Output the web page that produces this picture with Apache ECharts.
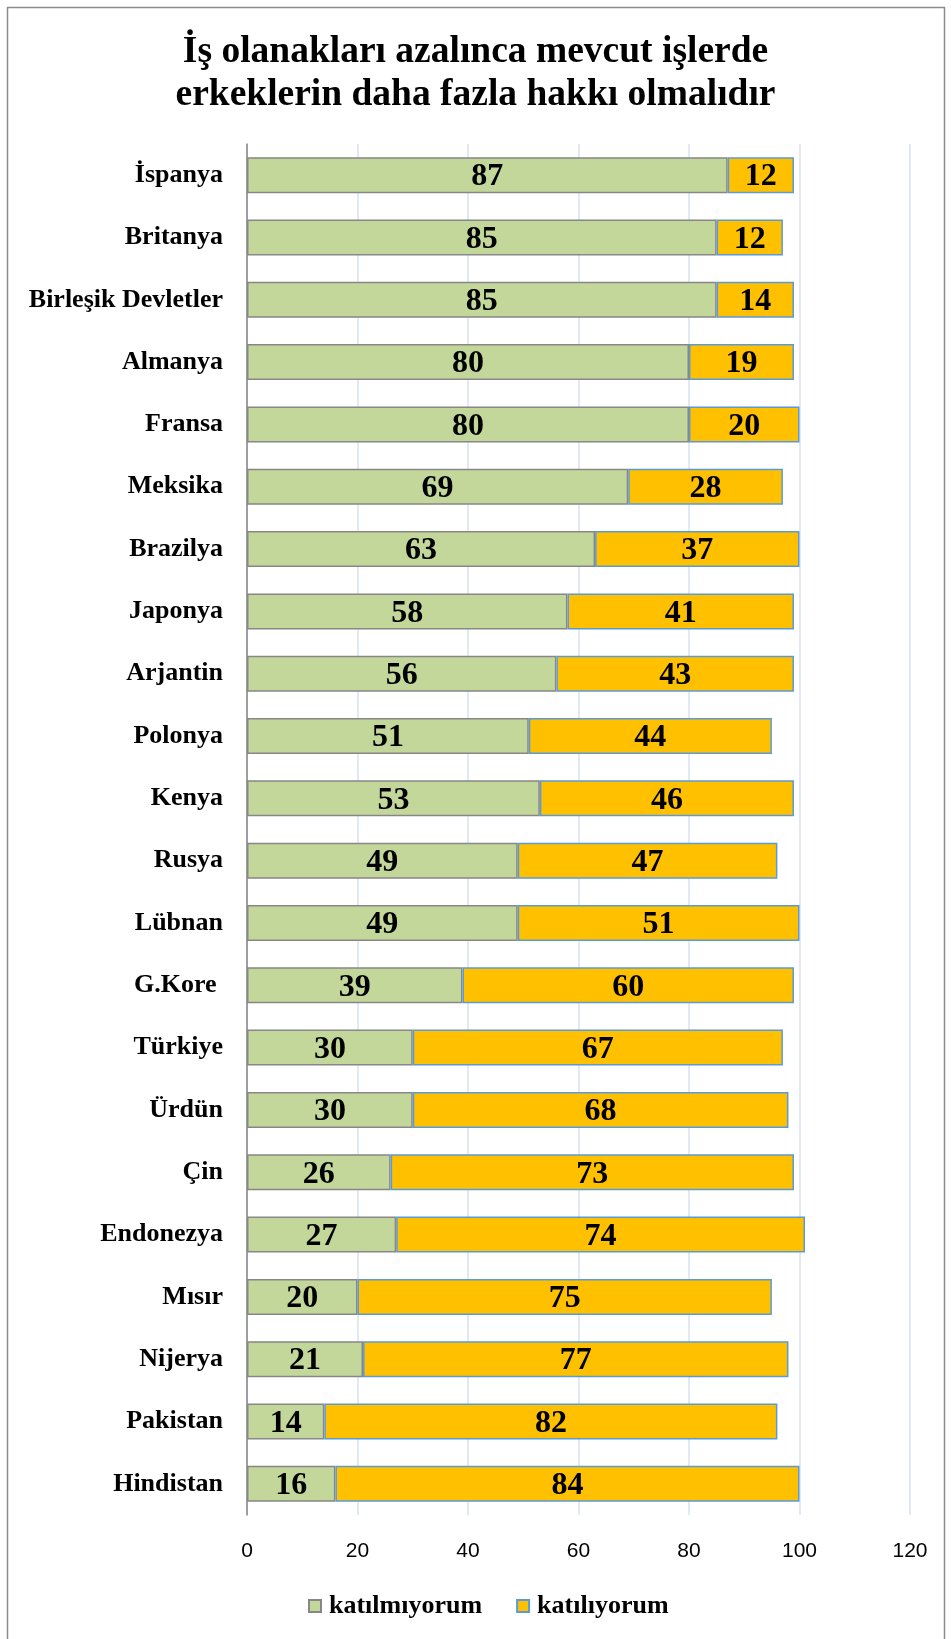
<!DOCTYPE html>
<html>
<head>
<meta charset="utf-8">
<script src="https://cdn.jsdelivr.net/npm/echarts@6/dist/echarts.min.js"></script>
<style>
html,body{margin:0;padding:0;background:#fff;}
#chart{width:951px;height:1639px;}
</style>
</head>
<body>
<div id="chart"></div>
<script>
var countries = ['İspanya','Britanya','Birleşik Devletler','Almanya','Fransa','Meksika','Brazilya','Japonya','Arjantin','Polonya','Kenya','Rusya','Lübnan','G.Kore ','Türkiye','Ürdün','Çin','Endonezya','Mısır','Nijerya','Pakistan','Hindistan'];
var katilmiyorum = [87,85,85,80,80,69,63,58,56,51,53,49,49,39,30,30,26,27,20,21,14,16];
var katiliyorum = [12,12,14,19,20,28,37,41,43,44,46,47,51,60,67,68,73,74,75,77,82,84];
var xTicks = [0,20,40,60,80,100,120];

var serif = '"Liberation Serif","Times New Roman",serif';
var myChart = echarts.init(document.getElementById('chart'));
var labelStyle = {
    show: true,
    position: 'inside',
    color: '#000',
    fontFamily: serif,
    fontWeight: 'bold',
    fontSize: 32,
    offset: [0, 2]
};
var option = {
    animation: false,
    title: {
        text: 'İş olanakları azalınca mevcut işlerde\nerkeklerin daha fazla hakkı olmalıdır',
        left: 'center',
        top: 26,
        textStyle: {
            fontFamily: serif,
            fontWeight: 'bold',
            fontSize: 37.5,
            lineHeight: 43,
            color: '#000'
        }
    },
    graphic: [{
        type: 'rect',
        shape: {x: 7.5, y: 7.5, width: 937, height: 1645},
        style: {fill: 'none', stroke: '#8c8c8c', lineWidth: 1.5},
        silent: true
    }],
    legend: {
        bottom: 15,
        left: 303,
        icon: 'rect',
        itemWidth: 12,
        itemHeight: 12,
        itemGap: 34,
        textStyle: {fontFamily: serif, fontWeight: 'bold', fontSize: 26, color: '#000', padding: [0, 0, 0, 3]},
        data: ['katılmıyorum','katılıyorum']
    },
    grid: {left: 247, right: 41, top: 144, bottom: 124},
    xAxis: {
        type: 'value',
        min: xTicks[0],
        max: xTicks[xTicks.length - 1],
        interval: 20,
        axisLine: {show: false},
        axisTick: {show: false},
        splitLine: {lineStyle: {color: '#d9e2f1', width: 1.5}},
        axisLabel: {color: '#000', fontFamily: '"Liberation Sans Narrow","Liberation Sans",sans-serif', fontSize: 21, margin: 26}
    },
    yAxis: {
        type: 'category',
        inverse: true,
        data: countries,
        axisLine: {lineStyle: {color: '#868686', width: 1.5}},
        axisTick: {show: false},
        axisLabel: {color: '#000', fontFamily: serif, fontWeight: 'bold', fontSize: 26, margin: 24}
    },
    series: [{
        name: 'katılmıyorum',
        type: 'bar',
        stack: 'total',
        barWidth: 36,
        data: katilmiyorum,
        itemStyle: {color: '#c4d79b', borderColor: '#878787', borderWidth: 1.5},
        label: labelStyle
    }, {
        name: 'katılıyorum',
        type: 'bar',
        stack: 'total',
        barWidth: 36,
        data: katiliyorum,
        itemStyle: {color: '#ffc000', borderColor: '#5b9bd5', borderWidth: 1.5},
        label: labelStyle
    }]
};
if (option && typeof option === "object") {
    myChart.setOption(option, true);
}
</script>
</body>
</html>
